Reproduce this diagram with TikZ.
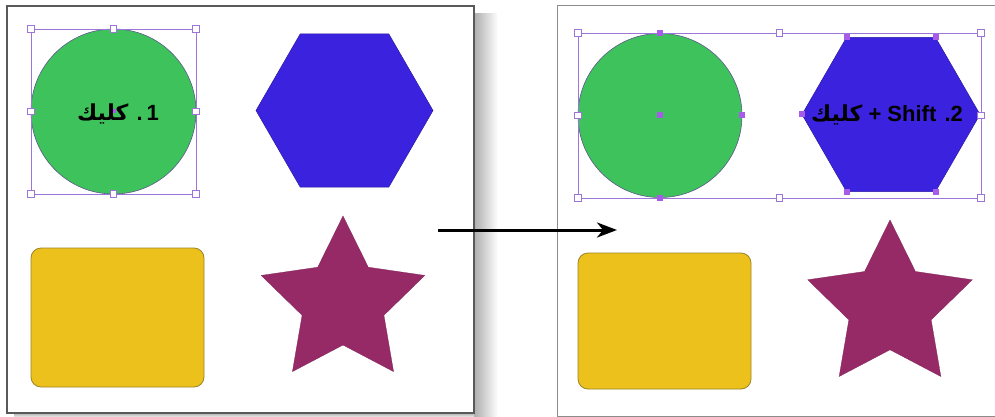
\documentclass[tikz,border=0pt]{standalone}
\usepackage{fontspec}
\setmainfont{Liberation Sans}
\newfontfamily\arabicfont[Script=Arabic]{DejaVu Sans}
\TeXXeTstate=1
\usetikzlibrary{arrows.meta,shapes.geometric}
\definecolor{shgreen}{HTML}{3EC35C}
\definecolor{shgreenedge}{HTML}{5A5A8A}
\definecolor{shblue}{HTML}{3B22DE}
\definecolor{shblueedge}{HTML}{2A1AA0}
\definecolor{shyellow}{HTML}{ECC11C}
\definecolor{shyellowedge}{HTML}{9C8428}
\definecolor{shstar}{HTML}{962A67}
\definecolor{selpurple}{HTML}{9D74D8}
\definecolor{hndpurple}{HTML}{A65CE8}
\tikzset{
  panelbox/.style={draw=black!65, line width=1.2pt, fill=white},
  panelboxb/.style={draw=black!45, line width=1pt, fill=white},
  selbox/.style={draw=selpurple, line width=0.9pt, inner sep=0, outer sep=0, rectangle},
  hnd/.style={draw=selpurple, fill=white, line width=0.7pt, minimum size=6.5pt, inner sep=0, rectangle},
  hndf/.style={fill=hndpurple, minimum size=6pt, inner sep=0, rectangle},
  circ/.style={circle, fill=shgreen, draw=shgreenedge, line width=0.6pt, inner sep=0, outer sep=0},
  hexa/.style={regular polygon, regular polygon sides=6, fill=shblue, draw=shblueedge, line width=0.5pt, inner sep=0, outer sep=0, minimum size=177pt},
  rrect/.style={rectangle, rounded corners=10pt, fill=shyellow, draw=shyellowedge, line width=0.8pt, inner sep=0, outer sep=0, minimum width=173pt},
  stara/.style={star, star points=5, star point ratio=2, fill=shstar, draw=shstar!85!black, line width=0.3pt, inner sep=0, outer sep=0, minimum size=172pt},
  lbl/.style={font=\fontsize{22}{26}\selectfont\bfseries, text=black, inner sep=0},
  arr/.style={line width=3pt, -{Stealth[length=20pt, width=15pt, inset=6pt]}},
}
\begin{document}
\begin{tikzpicture}[x=1pt,y=-1pt]
\useasboundingbox (0,0) rectangle (995,417);
\clip (0,0) rectangle (995,417);
\fill[white] (0,0) rectangle (995,417);
% shadows
\shade[left color=black!32, right color=white] (474,14) rectangle (498,417);
\shade[top color=black!32, bottom color=white] (14,413) rectangle (474,418);
% panels
\draw[panelbox] (7,6) rectangle (474,413);
\draw[panelboxb] (557,6) rectangle (1000,416);

% ---------- left panel ----------
\node[circ, minimum size=165pt] (c1) at (113.5,111.5) {};
\node[hexa] (h1) at (344.5,110.5) {};
\node[rrect, minimum height=139pt] (r1) at (117.5,317.5) {};
\node[stara] (st1) at (343,302) {};
\node[selbox, minimum width=165pt, minimum height=165pt] (s1) at (113.5,111.5) {};
\foreach \a in {north west,north,north east,east,south east,south,south west,west}
  \node[hnd] at (s1.\a) {};
\node[hndf, minimum size=4pt] (c1m) at (c1.center) {};
\node[lbl] (t1) at (118,114) {\beginR 1\kern4pt. {\arabicfont كليك}\endR};

% ---------- right panel ----------
\node[circ, minimum size=164pt] (c2) at (660,115.5) {};
\node[hexa, minimum size=178pt] (h2) at (891,114.5) {};
\node[rrect, minimum height=136pt] (r2) at (664.5,321) {};
\node[stara, minimum size=173pt] (st2) at (890,306.5) {};
\node[selbox, minimum width=403pt, minimum height=165pt] (s2) at (779.5,115.5) {};
\foreach \a in {north west,north,north east,east,south east,south,south west,west}
  \node[hnd] at (s2.\a) {};
\foreach \a in {north,south,east,center}
  \node[hndf] at (c2.\a) {};
\foreach \a in {corner 1,corner 2,corner 3,corner 4,corner 5}
  \node[hndf] at (h2.\a) {};
\node[lbl] (t2) at (887,115) {\beginR 2\kern0pt. \beginL Shift\endL{} + {\arabicfont كليك}\endR};

% ---------- arrow ----------
\coordinate (a1) at (438,230);
\coordinate (a2) at (617,230);
\draw[arr] (a1) -- (a2);
\end{tikzpicture}
\end{document}
